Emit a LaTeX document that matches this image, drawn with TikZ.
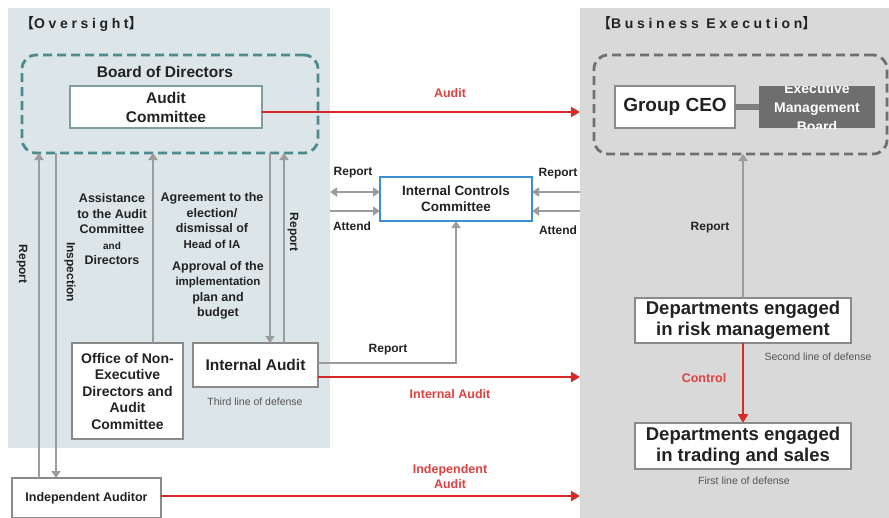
\documentclass[tikz,border=0pt]{standalone}
\usepackage{fontspec}
\setmainfont{Liberation Sans}
\newfontfamily\cjkf{Noto Sans CJK SC}
\newfontfamily\spacedf[LetterSpace=26]{Liberation Sans}
\usetikzlibrary{arrows.meta,calc}
\definecolor{ovbg}{HTML}{DCE6E9}
\definecolor{bebg}{HTML}{D9D9D9}
\definecolor{tealdash}{HTML}{4E8B8E}
\definecolor{graydash}{HTML}{707070}
\definecolor{arrgray}{HTML}{9C9C9C}
\definecolor{redc}{HTML}{D62A2A}
\definecolor{redtxt}{HTML}{E0403F}
\definecolor{boxline}{HTML}{8A8A8A}
\definecolor{acline}{HTML}{7E9EA0}
\definecolor{iccblue}{HTML}{3A8FD4}
\definecolor{embfill}{HTML}{6E6E6E}
\definecolor{txt}{HTML}{222222}
\definecolor{smalltxt}{HTML}{555555}
\tikzset{
  panel/.style={draw=none, inner sep=0pt, outer sep=0pt, anchor=north west},
  bbox/.style={draw=boxline, line width=1.4pt, fill=white, inner sep=0pt, outer sep=0pt,
    anchor=north west, align=center, text=txt},
  dbox/.style={rounded corners=14pt, line width=2.8pt, dash pattern=on 9pt off 5pt,
    inner sep=0pt, outer sep=0pt, anchor=north west},
  garr/.style={draw=arrgray, line width=2.4pt, -{Triangle[width=9pt,length=7pt]}},
  garrb/.style={draw=arrgray, line width=2.4pt, {Triangle[width=9pt,length=7pt]}-{Triangle[width=9pt,length=7pt]}},
  rarr/.style={draw=redc, line width=2.8pt, -{Triangle[width=10pt,length=9pt]}},
  lbl/.style={text=txt, font=\fontsize{12}{14}\selectfont\bfseries, inner sep=0pt},
  blk/.style={text=txt, font=\fontsize{12.5}{15.5}\selectfont\bfseries, inner sep=0pt, align=center},
  rlbl/.style={text=redtxt, font=\fontsize{12.5}{15}\selectfont\bfseries, inner sep=0pt, align=center},
  smalllbl/.style={text=smalltxt, font=\fontsize{10.5}{12}\selectfont, inner sep=0pt},
  ttl/.style={anchor=west, inner sep=0pt, text=txt, font=\fontsize{14}{16}\selectfont\bfseries},
}
\begin{document}
\begin{tikzpicture}[x=1pt,y=-1pt]
\useasboundingbox (0,0) rectangle (889,517);
\clip (0,0) rectangle (889,517);
\fill[white] (0,0) rectangle (889,517);

% panels
\node[panel, fill=ovbg, minimum width=322pt, minimum height=440pt] (ovs) at (8,8) {};
\node[panel, fill=bebg, minimum width=320pt, minimum height=520pt] (bex) at (580,8) {};

% titles
\node[ttl] (ovt) at (20,24) {{\cjkf 【}{\spacedf Oversight}{\cjkf 】}};
\node[ttl] (bet) at (597,23) {{\cjkf 【}{\spacedf Business Execution}{\cjkf 】}};

% Board of directors
\node[dbox, draw=tealdash, minimum width=296pt, minimum height=98pt] (bod) at (22,55) {};
\node[text=txt, font=\fontsize{15.5}{18}\selectfont\bfseries, inner sep=0pt] (bodt) at (165,72) {Board of Directors};
\node[bbox, draw=acline, line width=1.2pt, minimum width=192pt, minimum height=42pt,
  font=\fontsize{15.5}{19}\selectfont\bfseries] (ac) at (70,86) {Audit\\Committee};

% lower oversight boxes
\node[bbox, minimum width=111pt, minimum height=96pt,
  font=\fontsize{14}{16.5}\selectfont\bfseries] (ofc) at (72,343) {Office of Non-\\Executive\\Directors and\\Audit\\Committee};
\node[bbox, minimum width=125pt, minimum height=44pt,
  font=\fontsize{15.5}{18}\selectfont\bfseries] (ia) at (193,343) {Internal Audit};
\node[smalllbl] (third) at (255,402) {Third line of defense};
\node[bbox, minimum width=149pt, minimum height=40pt,
  font=\fontsize{12.5}{15}\selectfont\bfseries] (ind) at (12,478) {Independent Auditor};

% vertical arrow x positions
\coordinate (x38) at (39,0);
\coordinate (x55) at (56,0);
\coordinate (x153) at (153,0);
\coordinate (x270) at (270,0);
\coordinate (x285) at (284,0);
\draw[garr] (ind.north -| x38) -- (bod.south -| x38);
\draw[garr] (bod.south -| x55) -- (ind.north -| x55);
\draw[garr] (ofc.north -| x153) -- (bod.south -| x153);
\draw[garr] (bod.south -| x270) -- (ia.north -| x270);
\draw[garr] (ia.north -| x285) -- (bod.south -| x285);

% vertical labels
\node[lbl, rotate=-90] (rep1) at (22,264) {Report};
\node[lbl, rotate=-90] (insp) at (70,272) {Inspection};
\node[lbl, rotate=-90] (rep2) at (293,232) {Report};

% text blocks
\node[blk] (assist) at (112,229.5) {Assistance\\to the Audit\\Committee\\{\fontsize{10}{15.5}\selectfont and}\\Directors};
\node[blk] (agree) at (212,220.5) {Agreement to the\\election/\\dismissal of\\{\fontsize{11.5}{15.5}\selectfont Head of IA}};
\node[blk] (appr) at (218,290.5) {Approval of the\\{\fontsize{11.5}{15.5}\selectfont implementation}\\plan and\\budget};

% Internal Controls Committee
\node[bbox, draw=iccblue, line width=1.8pt, minimum width=152pt, minimum height=44pt,
  font=\fontsize{13.5}{16}\selectfont\bfseries] (icc) at (380,177) {Internal Controls\\Committee};
\coordinate (y192) at (0,192);
\coordinate (y211) at (0,211);
\draw[garrb] (ovs.east |- y192) -- (icc.west |- y192);
\draw[garr] (ovs.east |- y211) -- (icc.west |- y211);
\draw[garr] (bex.west |- y192) -- (icc.east |- y192);
\draw[garr] (bex.west |- y211) -- (icc.east |- y211);
\node[lbl] (lrep) at (353,173) {Report};
\node[lbl] (latt) at (352,226) {Attend};
\node[lbl] (rrep) at (558,174) {Report};
\node[lbl] (ratt) at (558,230) {Attend};

% IA report to ICC
\coordinate (y363) at (0,363);
\draw[garr] (ia.east |- y363) -| (icc.south);
\node[lbl] (iarep) at (388,350) {Report};

% red arrows
\coordinate (y112) at (0,112);
\coordinate (y377) at (0,377);
\coordinate (y496) at (0,496);
\draw[rarr] (ac.east |- y112) -- (bex.west |- y112);
\node[rlbl] (audl) at (450,93) {Audit};
\draw[rarr] (ia.east |- y377) -- (bex.west |- y377);
\node[rlbl] (ial) at (450,394) {Internal Audit};
\draw[rarr] (ind.east |- y496) -- (bex.west |- y496);
\node[rlbl] (indl) at (450,477) {Independent\\Audit};

% Business execution
\node[dbox, draw=graydash, minimum width=293pt, minimum height=99pt] (bed) at (594,55) {};
\node[bbox, line width=1.2pt, minimum width=120pt, minimum height=42pt,
  font=\fontsize{19}{22}\selectfont\bfseries] (ceo) at (615,86) {Group CEO};
\node[panel, fill=embfill, minimum width=116pt, minimum height=42pt,
  path picture={\node[anchor=center, inner sep=0pt, text=white, font=\fontsize{14}{19}\selectfont\bfseries, align=center]
    at (path picture bounding box.center) {Executive\\Management\\Board};}] (emb) at (759,86) {};
\draw[draw=graydash!90, line width=6pt] (ceo.east) -- (emb.west);

\node[bbox, line width=1.2pt, minimum width=216pt, minimum height=45pt,
  font=\fontsize{18.5}{21}\selectfont\bfseries] (risk) at (635,298) {Departments engaged\\in risk management};
\node[bbox, line width=1.2pt, minimum width=216pt, minimum height=46pt,
  font=\fontsize{18.5}{21}\selectfont\bfseries] (trade) at (635,423) {Departments engaged\\in trading and sales};
\draw[garr] (risk.north) -- (bed.south -| risk.north);
\node[lbl] (brep) at (710,228) {Report};
\draw[rarr] (risk.south) -- (trade.north);
\node[rlbl] (ctrl) at (704,378) {Control};
\node[smalllbl] (second) at (818,357) {Second line of defense};
\node[smalllbl] (first) at (744,481) {First line of defense};
\end{tikzpicture}
\end{document}
